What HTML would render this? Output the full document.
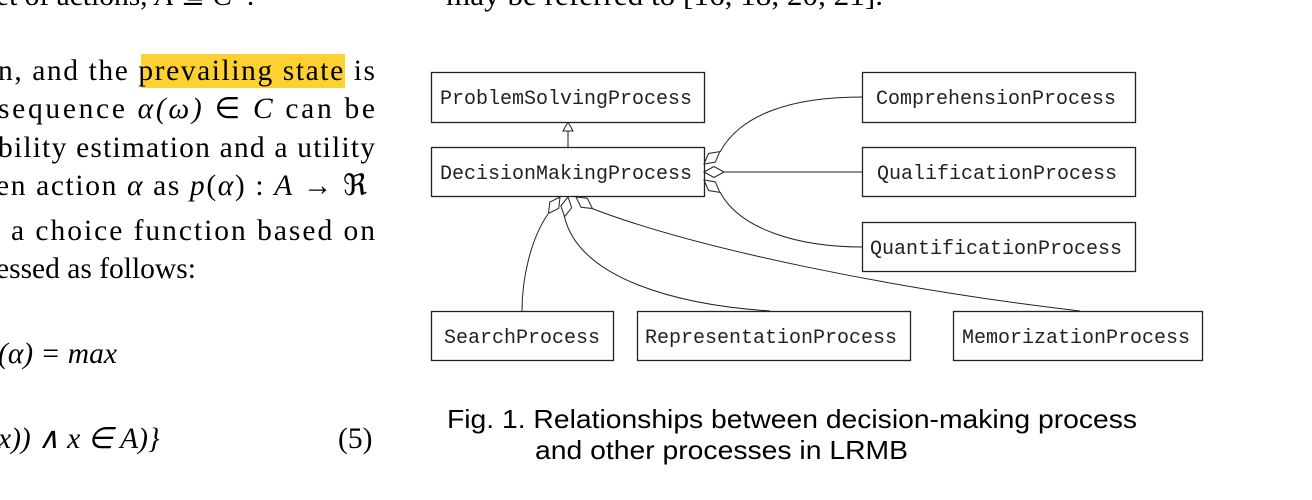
<!DOCTYPE html>
<html><head><meta charset="utf-8"><style>
html,body{margin:0;padding:0;background:#fff;width:1312px;height:500px;overflow:hidden}
svg{display:block}
.t{font-family:"Liberation Serif",serif;font-size:29.5px;fill:#000}
.i{font-style:italic}
.m{font-family:"Liberation Mono",monospace;font-size:20px;fill:#222}
.c{font-family:"Liberation Sans",sans-serif;font-size:26px;fill:#000}
.b{fill:#fff;stroke:#222;stroke-width:1.3}
.l{fill:none;stroke:#222;stroke-width:1}
.d{fill:#fff;stroke:#222;stroke-width:1}
</style></head><body>
<svg width="1312" height="500" viewBox="0 0 1312 500">
<text class="t" x="-4" y="5">et of actions, <tspan class="i">A</tspan> ⊆ <tspan class="i">C</tspan>*.</text>
<text class="t" x="446" y="5" textLength="437" lengthAdjust="spacingAndGlyphs">may be referred to [16, 18, 20, 21].</text>
<rect x="141" y="54" width="204" height="34" fill="#fdd132"/>
<text class="t" x="-2" y="80" textLength="377" lengthAdjust="spacing">n, and the prevailing state is</text>
<text class="t" x="-2" y="118" textLength="377" lengthAdjust="spacing">sequence <tspan class="i">α(ω)</tspan> ∈ <tspan class="i">C</tspan> can be</text>
<text class="t" x="-2" y="157" textLength="377" lengthAdjust="spacing">bility estimation and a utility</text>
<text class="t" x="-4" y="195" textLength="371" lengthAdjust="spacing">en action <tspan class="i">α</tspan> as  <tspan class="i">p</tspan>(<tspan class="i">α</tspan>) : <tspan class="i">A</tspan> → ℜ</text>
<text class="t" x="11" y="240" textLength="364" lengthAdjust="spacing">a choice function based on</text>
<text class="t" x="-4" y="278">essed as follows:</text>
<text class="t i" x="-2" y="363">(α) = max</text>
<text class="t i" x="-2" y="448">x)) ∧ x ∈ A)}</text>
<text class="t" x="338" y="448">(5)</text>

<path class="l" d="M568 147 L568 130"/>
<path class="d" d="M568 122 L573 131 L563 131 Z"/>
<path class="l" d="M720 152 C740 115 790 97 862 97"/>
<path class="l" d="M724 172 L862 172"/>
<path class="l" d="M720 192 C740 230 800 247 862 247"/>
<path class="l" d="M548 214 C530 240 522 280 522 311"/>
<path class="l" d="M564.5 217 C580 280 680 305 770 311"/>
<path class="l" d="M592 208.5 C700 250 900 290 1080 311"/>

<rect class="b" x="431.5" y="72.5" width="273" height="50"/>
<text class="m" x="440" y="104">ProblemSolvingProcess</text>
<rect class="b" x="431.5" y="147.5" width="273" height="49"/>
<text class="m" x="440" y="179">DecisionMakingProcess</text>
<rect class="b" x="862.5" y="72.5" width="273" height="50"/>
<text class="m" x="876" y="104">ComprehensionProcess</text>
<rect class="b" x="862.5" y="147.5" width="273" height="49"/>
<text class="m" x="877" y="179">QualificationProcess</text>
<rect class="b" x="862.5" y="222.5" width="273" height="49"/>
<text class="m" x="870" y="254">QuantificationProcess</text>
<rect class="b" x="431.5" y="311.5" width="182" height="49"/>
<text class="m" x="444" y="343">SearchProcess</text>
<rect class="b" x="637.5" y="311.5" width="273" height="49"/>
<text class="m" x="645" y="343">RepresentationProcess</text>
<rect class="b" x="953.5" y="311.5" width="249" height="49"/>
<text class="m" x="962" y="343">MemorizationProcess</text>

<g transform="translate(704,164) rotate(-38)"><path class="d" d="M0 0 L10 -5.5 L20 0 L10 5.5 Z"/></g>
<g transform="translate(704,172)"><path class="d" d="M0 0 L10 -5.5 L20 0 L10 5.5 Z"/></g>
<g transform="translate(704,180) rotate(38)"><path class="d" d="M0 0 L10 -5.5 L20 0 L10 5.5 Z"/></g>
<g transform="translate(560,197) rotate(125)"><path class="d" d="M0 0 L10 -5.5 L20 0 L10 5.5 Z"/></g>
<g transform="translate(568,197) rotate(100)"><path class="d" d="M0 0 L10 -5.5 L20 0 L10 5.5 Z"/></g>
<g transform="translate(576,197) rotate(35)"><path class="d" d="M0 0 L10 -5.5 L20 0 L10 5.5 Z"/></g>

<text class="c" x="447" y="428" textLength="690" lengthAdjust="spacingAndGlyphs">Fig. 1. Relationships between decision-making process</text>
<text class="c" x="535" y="459" textLength="373" lengthAdjust="spacingAndGlyphs">and other processes in LRMB</text>
</svg>
</body></html>
